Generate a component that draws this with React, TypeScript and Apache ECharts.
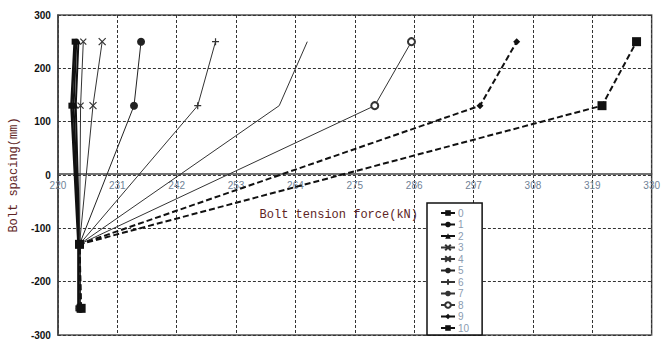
import React, { useEffect, useRef } from "react";
import * as echarts from "echarts";

// Bolt spacing (mm) of the four measuring points of every curve
const spacing = [-250, -130, 130, 250];

// Bolt tension force (kN), one array per curve
const force0 = [223.8, 223.8, 222.5, 223.1];
const force1 = [223.9, 223.9, 222.9, 223.4];
const force2 = [224.0, 224.0, 223.3, 223.8];
const force3 = [224.1, 224.0, 224.2, 224.7];
const force4 = [224.2, 224.0, 226.5, 228.2];
const force5 = [224.2, 224.0, 234.1, 235.4];
const force6 = [224.2, 224.0, 245.9, 249.2];
const force7 = [224.2, 224.0, 261.0, 266.2];
const force8 = [224.2, 224.0, 278.7, 285.5];
const force9 = [224.2, 224.0, 298.2, 305.0];
const force10 = [224.3, 224.0, 320.8, 327.2];

const seriesNames = ["0", "1", "2", "3", "4", "5", "6", "7", "8", "9", "10"];
const forces = [force0, force1, force2, force3, force4, force5, force6, force7, force8, force9, force10];

const xTicks = { min: 220, max: 330, interval: 11 };
const yTicks = { min: -300, max: 300, interval: 100 };

const X_SYM = "path://M0,0L10,10M10,0L0,10";
const PLUS_SYM = "path://M5,0L5,10M0,5L10,5";

const styles: any[] = [
  { symbol: "rect", size: 6, width: 2.5, type: "solid", color: "#111" },
  { symbol: "circle", size: 6, width: 2, type: "solid", color: "#111" },
  { symbol: "triangle", size: 5, width: 2, type: "solid", color: "#111" },
  { symbol: X_SYM, size: 6, width: 1, type: "solid", color: "#333", stroke: true },
  { symbol: X_SYM, size: 7, width: 1, type: "solid", color: "#333", stroke: true },
  { symbol: "circle", size: 8, width: 1, type: "solid", color: "#222" },
  { symbol: PLUS_SYM, size: 7, width: 1, type: "solid", color: "#333", stroke: true },
  { symbol: "none", size: 0, width: 1, type: "solid", color: "#333" },
  { symbol: "emptyCircle", size: 7, width: 1, type: "solid", color: "#333" },
  { symbol: "diamond", size: 7, width: 2, type: [6, 3], color: "#111" },
  { symbol: "rect", size: 9, width: 2, type: [6, 3], color: "#111" },
];

const GRID_TOP = 15;
const GRID_BOTTOM = 2;
const CHART_H = 340;

export default function App() {
  const ref = useRef<HTMLDivElement>(null);

  useEffect(() => {
    if (!ref.current) return;
    const chart = echarts.init(ref.current, null, { renderer: "svg" });

    // distance from the bottom of the plot to the zero line of the y axis
    const plotH = CHART_H - GRID_TOP - GRID_BOTTOM;
    const zeroFromBottom = (plotH * (0 - yTicks.min)) / (yTicks.max - yTicks.min);

    const series = seriesNames.map((name, i) => {
      const s = styles[i];
      return {
        name,
        type: "line",
        data: forces[i].map((f, j) => [f, spacing[j]]),
        symbol: s.symbol,
        symbolSize: s.size,
        showSymbol: s.symbol !== "none",
        lineStyle: { color: s.color, width: s.width, type: s.type },
        itemStyle: s.stroke
          ? { color: "#fff", borderColor: s.color, borderWidth: 1.2 }
          : s.symbol === "emptyCircle"
          ? { color: s.color, borderColor: s.color, borderWidth: 1 }
          : { color: s.color, borderColor: s.color, borderWidth: 0 },
        z: 3,
      };
    });

    chart.setOption({
      animation: false,
      backgroundColor: "#fff",
      grid: {
        left: 57,
        right: -1,
        top: GRID_TOP,
        bottom: GRID_BOTTOM,
        show: true,
        borderColor: "#555",
        borderWidth: 1.5,
      },
      xAxis: {
        type: "value",
        min: xTicks.min,
        max: xTicks.max,
        interval: xTicks.interval,
        position: "bottom",
        offset: -zeroFromBottom,
        name: "Bolt tension force(kN)",
        nameLocation: "middle",
        nameGap: 35,
        nameTextStyle: {
          color: "#5e2424",
          fontFamily: "Liberation Mono",
          fontSize: 12,
          padding: [0, 32, 0, 0],
        },
        axisLine: { onZero: false, lineStyle: { color: "#444", width: 1.5 } },
        axisTick: { show: false },
        axisLabel: {
          color: "#6f8296",
          fontSize: 10,
          fontFamily: "Liberation Sans",
          margin: 7,
          showMaxLabel: true,
          showMinLabel: true,
          alignMaxLabel: "center",
          alignMinLabel: "center",
        },
        splitLine: { show: true, lineStyle: { color: "#333", type: [3, 2], width: 1 } },
      },
      yAxis: {
        type: "value",
        min: yTicks.min,
        max: yTicks.max,
        interval: yTicks.interval,
        name: "Bolt spacing(mm)",
        nameLocation: "middle",
        nameGap: 26,
        nameTextStyle: {
          color: "#5e2424",
          fontFamily: "Liberation Mono",
          fontSize: 12,
        },
        axisLine: { show: true, lineStyle: { color: "#444", width: 1.5 } },
        axisTick: { show: false },
        axisLabel: {
          color: "#111",
          fontSize: 10,
          fontWeight: "bold",
          fontFamily: "Liberation Sans",
          margin: 7,
        },
        splitLine: { show: true, lineStyle: { color: "#333", type: [3, 2], width: 1 } },
      },
      legend: {
        orient: "vertical",
        left: 427,
        top: 203,
        data: seriesNames,
        itemWidth: 14,
        itemHeight: 7,
        itemGap: 1.5,
        padding: [5, 13, 2, 13],
        backgroundColor: "#fff",
        borderColor: "#111",
        borderWidth: 1.5,
        borderRadius: 0,
        textStyle: {
          color: "#8a9bb0",
          fontSize: 10,
          fontFamily: "Liberation Sans",
          lineHeight: 10,
          padding: [0, 0, 0, -2],
        },
      },
      series,
    });

    return () => chart.dispose();
  }, []);

  return (
    <div
      ref={ref}
      style={{ position: "fixed", left: 0, top: 0, width: 663, height: 340 }}
    />
  );
}
